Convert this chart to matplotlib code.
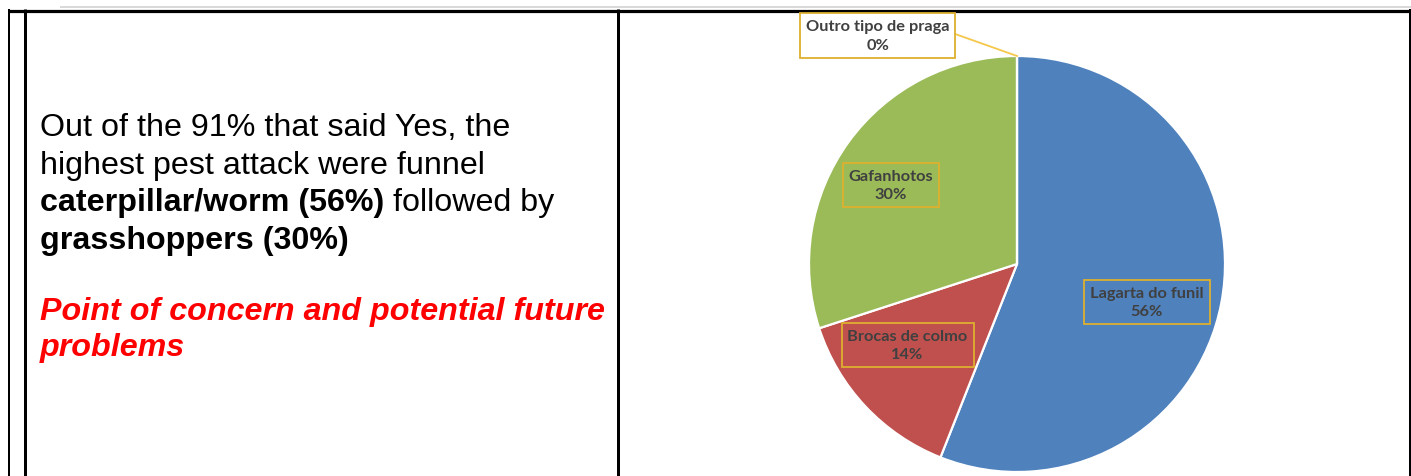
import matplotlib
matplotlib.use("Agg")
import matplotlib.pyplot as plt

# ---- data ----
categories = ["Lagarta do funil", "Brocas de colmo", "Gafanhotos", "Outro tipo de praga"]
shares = [56, 14, 30, 0]
colors = ["#4F81BD", "#C0504D", "#9BBB59", "#8064A2"]

body_lines = [
    [("Out of the 91% that said Yes, the", "normal")],
    [("highest pest attack were funnel", "normal")],
    [("caterpillar/worm (56%)", "bold"), (" followed by", "normal")],
    [("grasshoppers (30%)", "bold")],
]
concern_lines = ["Point of concern and potential future", "problems"]

W, H = 1411, 477
fig = plt.figure(figsize=(W / 100, H / 100), dpi=100)
fig.patch.set_facecolor("white")

bg = fig.add_axes([0, 0, 1, 1])
bg.set_xlim(0, W)
bg.set_ylim(H, 0)
bg.axis("off")

px = 0.72  # 1 pixel in points

# table frame
bg.plot([60, W], [8, 8], color="#D9D9D9", lw=2 * px, solid_capstyle="butt", zorder=2)
bg.plot([8, W], [11.5, 11.5], color="black", lw=3.2 * px, solid_capstyle="butt", zorder=2)
bg.plot([9.3, 9.3], [10, H], color="black", lw=2 * px, solid_capstyle="butt", zorder=2)
bg.plot([24.5, 24.5], [10, H], color="black", lw=3 * px, solid_capstyle="butt", zorder=2)
bg.plot([618, 618], [10, H], color="black", lw=3 * px, solid_capstyle="butt", zorder=2)
bg.plot([1409.8, 1409.8], [10, H], color="black", lw=2 * px, solid_capstyle="butt", zorder=2)

# left text
fs = 23.2
x0 = 40
baselines = [136.5, 174, 211.5, 249]
for segs, yb in zip(body_lines, baselines):
    prev = None
    for txt, wt in segs:
        if prev is None:
            prev = bg.text(x0, yb, txt, fontsize=fs, fontweight=wt, family="Liberation Sans",
                           va="baseline", ha="left", color="black")
        else:
            prev = bg.annotate(txt, xy=(1, 0), xycoords=prev, fontsize=fs, fontweight=wt,
                               family="Liberation Sans", va="bottom", ha="left", color="black")

for txt, yb in zip(concern_lines, [320, 356]):
    bg.text(x0, yb, txt, fontsize=fs, fontweight="bold", fontstyle="italic",
            family="Liberation Sans", va="baseline", ha="left", color="#FF0000")

# pie
cx, cy, r = 1017, 265, 208
pax = fig.add_axes([(cx - r) / W, (H - cy - r) / H, 2 * r / W, 2 * r / H])
pax.set_xlim(-1, 1)
pax.set_ylim(-1, 1)
pax.axis("off")
wedges, _ = pax.pie(shares, colors=colors, startangle=90, counterclock=False, radius=1,
                    wedgeprops=dict(edgecolor="white", linewidth=1.6), normalize=True)
pax.set_xlim(-1, 1)
pax.set_ylim(-1, 1)

label_pos = [(0.625, -0.183), (-0.526, -0.389), (-0.606, 0.380), (-0.670, 1.098)]
box_col = "#DDB02E"
for name, val, (lx, ly) in zip(categories, shares, label_pos):
    face = "white" if val == 0 else "none"
    pax.text(lx, ly, f"{name}\n{val}%", ha="center", va="center", fontsize=11.8,
             fontweight="bold", family="Lato", color="#404040", linespacing=1.42,
             multialignment="center", clip_on=False, zorder=5,
             bbox=dict(boxstyle="square,pad=0.36", fc=face, ec=box_col, lw=1.3))

# leader line for the 0% slice
pax.plot([-0.298, 0.0], [1.106, 1.0], color="#F5C84A", lw=1.3, clip_on=False, zorder=4)

fig.savefig("out.png", dpi=100, facecolor="white")
